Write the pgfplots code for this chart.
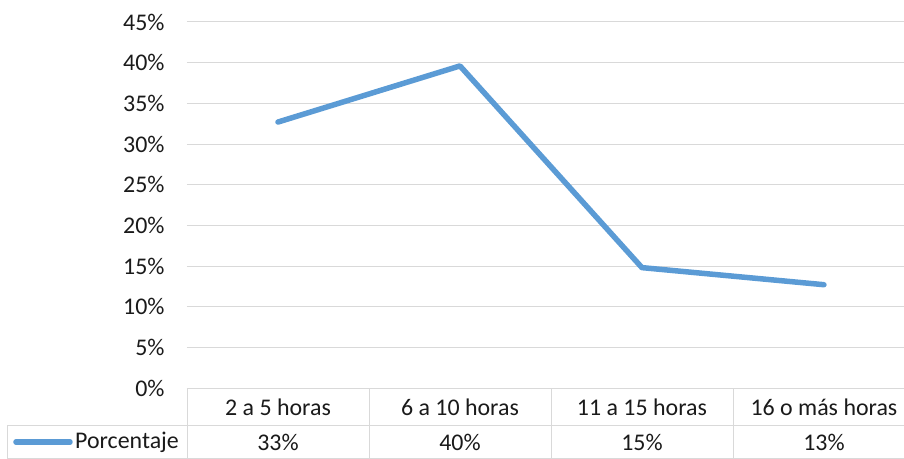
\documentclass[border=0pt]{standalone}
\usepackage{fontspec}
\setmainfont{Carlito}
\usepackage{pgfplots}
\pgfplotsset{compat=1.18}
\definecolor{serie}{HTML}{5B9BD5}
\definecolor{rejilla}{HTML}{D9D9D9}
\definecolor{texto}{HTML}{1A1A1A}
\begin{document}
\begin{tikzpicture}
\begin{axis}[
    at={(0,0)}, anchor=south west,
    scale only axis, width=717bp, height=366bp,
    xmin=-0.5, xmax=3.44, ymin=0, ymax=45,
    xtick={0,1,2,3},
    xticklabels={2 a 5 horas, 6 a 10 horas, 11 a 15 horas, 16 o más horas},
    ytick={0,5,...,45},
    yticklabel={\pgfmathprintnumber{\tick}\%},
    /pgf/number format/assume math mode=true,
    ymajorgrids, grid style={rejilla, line width=1bp},
    axis line style={draw=none},
    major tick style={draw=none},
    tick label style={font=\fontsize{24}{28}\selectfont, text=texto},
    xticklabel style={anchor=center, yshift=-19bp},
    yticklabel style={anchor=east, xshift=-19bp},
    clip=false,
]
\addplot[serie, line width=5.5bp, line cap=round, line join=round]
    coordinates {(0,32.7) (1,39.6) (2,14.8) (3,12.7)};
\foreach \i/\v in {0/33, 1/40, 2/15, 3/13}{
    \edef\temp{\noexpand\node[font=\noexpand\fontsize{24}{28}\noexpand\selectfont, text=texto]
        at (axis cs:\i,0) [yshift=-54bp] {\v\noexpand\%};}
    \temp
}
\end{axis}
% tabla de datos
\begin{scope}[rejilla, line width=1bp]
\draw (-179bp,-37bp) -- (717bp,-37bp);
\draw (-179bp,-70.5bp) -- (717bp,-70.5bp);
\draw (-179bp,-37bp) -- (-179bp,-71bp);
\foreach \x in {0,182,364,546}{
    \draw (\x bp,0) -- (\x bp,-71bp);
}
\end{scope}
\draw[serie, line width=5.5bp, line cap=round] (-171bp,-54bp) -- (-117bp,-54bp);
\node[anchor=west, inner sep=0pt, font=\fontsize{24}{28}\selectfont, text=texto] at (-112bp,-54bp) {Porcentaje};
\pgfresetboundingbox
\path[use as bounding box] (-187bp,-71bp) rectangle (717bp,388bp);
\end{tikzpicture}
\end{document}
